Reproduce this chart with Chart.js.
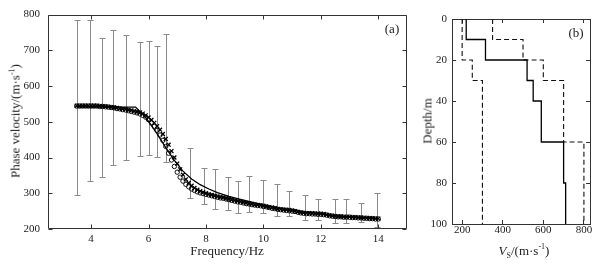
<!DOCTYPE html>
<html><head><meta charset="utf-8">
<script src="https://cdn.jsdelivr.net/npm/chart.js@4/dist/chart.umd.min.js"></script>
<style>
body{margin:0;background:#fff;width:607px;height:265px;overflow:hidden;position:relative;font-family:"Liberation Serif","Times New Roman",serif;}
canvas{position:absolute;top:0;}
#ca{left:0}
#cb{left:400px}
.t{position:absolute;font-size:13px;color:#222;white-space:nowrap;line-height:1}
.rot{transform:translate(-50%,-50%) rotate(-90deg);}
.ctr{transform:translate(-50%,-50%);}
sup,sub{font-size:8px;line-height:0}
</style></head><body>
<canvas id="ca" width="410" height="265"></canvas>
<canvas id="cb" width="207" height="265"></canvas>
<div class="t rot" style="left:15px;top:121px">Phase velocity/(m·s<sup>-1</sup>)</div>
<div class="t ctr" style="left:227px;top:250px">Frequency/Hz</div>
<div class="t ctr" style="left:392px;top:28px">(a)</div>
<div class="t rot" style="left:427px;top:121px">Depth/m</div>
<div class="t ctr" style="left:524px;top:250px"><i>V</i><sub>S</sub>/(m·s<sup>-1</sup>)</div>
<div class="t ctr" style="left:576px;top:32px">(b)</div>
<script>
// ---------- Panel (a) data ----------
const freq = [3.5,3.6,3.7,3.8,3.9,4.0,4.1,4.2,4.3,4.4,
4.5,4.6,4.7,4.8,4.9,5.0,5.1,5.2,5.3,5.4,
5.5,5.6,5.7,5.8,5.9,
6.0,6.1,6.2,6.3,6.4,6.5,6.6,6.7,6.8,6.9,
7.0,7.1,7.2,7.3,7.4,7.5,7.6,7.7,7.8,7.9,
8.0,8.1,8.2,8.3,8.4,8.5,8.6,8.7,8.8,8.9,
9.0,9.1,9.2,9.3,9.4,9.5,9.6,9.7,9.8,9.9,
10.0,10.1,10.2,10.3,10.4,10.5,10.6,10.7,10.8,10.9,
11.0,11.1,11.2,11.3,11.4,11.5,11.6,11.7,11.8,11.9,
12.0,12.1,12.2,12.3,12.4,12.5,12.6,12.7,12.8,12.9,
13.0,13.1,13.2,13.3,13.4,13.5,13.6,13.7,13.8,13.9,14.0];
const obsVel = [545,545,545,545,545,545,545,545,544,544,
543,542,541,540,539,537,536,535,533,532,
530,528,526,523,518,
512,505,497,488,478,466,452,436,418,400,
383,367,352,339,329,321,315,310,306,303,
300,297,295,293,291,289,288,286,284,282,
280,278,277,275,273,271,270,268,267,266,
265,263,261,260,258,256,255,254,254,253,
252,250,248,246,245,244,244,244,243,243,
243,242,240,238,237,236,235,235,234,234,
234,233,233,232,232,231,231,230,230,229,229];
const invVel = [544,544,544,544,544,544,544,544,543,543,
542,541,540,539,537,536,534,533,531,529,
527,525,522,518,513,
506,497,487,476,463,448,431,412,393,375,
359,345,334,325,318,312,308,304,301,299,
297,295,293,291,289,287,286,284,282,280,
278,276,275,273,271,270,268,267,266,265,
263,262,260,258,257,255,254,253,252,251,
250,249,247,245,244,243,243,242,242,241,
241,240,239,237,236,235,234,234,233,233,
233,232,232,231,231,230,230,229,229,228,228];
const trueFreq = [3.5,5.55,5.7,5.9,6.1,6.3,6.6,6.9,7.2,7.5,7.8,8.1,8.4,8.8,9.2,9.6,10.0,10.5,11.0,11.5,12.0,12.5,13.0,13.5,14.0];
const trueVel  = [541,541,529,512,490,466,428,392,362,340,324,312,302,291,283,275,267,259,253,247,243,237,234,232,229];
const errFreq = [3.52,3.96,4.39,4.78,5.22,5.70,6.00,6.30,6.60,7.44,7.94,8.33,8.77,9.13,9.49,10.0,10.47,10.89,11.44,11.9,12.48,12.89,13.41,13.97];
const errHigh = [786,786,735,758,742,722,725,711,747,426,370,367,345,334,348,336,326,305,294,285,285,285,272,300];
const errLow  = [296,333,345,379,392,404,406,401,387,286,270,257,254,246,248,245,235,235,226,226,217,217,220,205];
const freqTicks = [4,6,8,10,12,14];
const velTicks = [200,300,400,500,600,700,800];

// ---------- Panel (b) data ----------
const solidTop = [0,10,20,30,40,60,80];
const solidVs  = [220,315,520,550,590,700,710];
const lowTop = [0,20,30];
const lowVs  = [200,250,300];
const highTop = [0,10,20,30,60];
const highVs  = [350,500,600,700,800];
const maxDepth = 100;
const vsTicks = [200,400,600,800];
const depthTicks = [0,20,40,60,80,100];

const FONT = {family:'"Liberation Serif","Times New Roman",serif', size:11};
const AX = '#333';

// panel (a): box + inward ticks drawn through its scales
function drawFrame(ctx, chart){
  const a = chart.chartArea, xs = chart.scales.x, ys = chart.scales.y;
  ctx.save();
  ctx.strokeStyle = AX; ctx.lineWidth = 1; ctx.setLineDash([]);
  const L = Math.round(a.left)+0.5, R = Math.round(a.right)-0.5, T = Math.round(a.top)+0.5, B = Math.round(a.bottom)-0.5;
  ctx.beginPath();
  ctx.rect(L, T, R-L, B-T);
  const tl = 4;
  xs.ticks.forEach(t => {
    const p = Math.round(xs.getPixelForValue(t.value))+0.5;
    ctx.moveTo(p, B); ctx.lineTo(p, B-tl);
    ctx.moveTo(p, T); ctx.lineTo(p, T+tl);
  });
  ys.ticks.forEach(t => {
    const p = Math.round(ys.getPixelForValue(t.value))+0.5;
    ctx.moveTo(L, p); ctx.lineTo(L+tl, p);
    ctx.moveTo(R, p); ctx.lineTo(R-tl, p);
  });
  ctx.stroke();
  ctx.restore();
}

const errBars = {
  id:'errBars',
  beforeDatasetsDraw(chart){
    const {ctx, scales:{x, y}} = chart;
    ctx.save();
    ctx.strokeStyle = '#8a8a8a'; ctx.lineWidth = 1;
    ctx.beginPath();
    const cap = 3;
    errFreq.forEach((f, i) => {
      const px = Math.round(x.getPixelForValue(f))+0.5;
      const yh = Math.round(y.getPixelForValue(errHigh[i]))+0.5;
      const yl = Math.round(Math.min(y.getPixelForValue(errLow[i]), chart.chartArea.bottom-1))+0.5;
      ctx.moveTo(px, yh); ctx.lineTo(px, yl);
      ctx.moveTo(px-cap, yh); ctx.lineTo(px+cap, yh);
      ctx.moveTo(px-cap, yl); ctx.lineTo(px+cap, yl);
    });
    ctx.stroke();
    ctx.restore();
  }
};

function setTicks(arr){ return s => { s.ticks = arr.map(v => ({value:v})); }; }
const noGrid = {display:false, drawTicks:false};
// native Chart.js axis line + inward tick marks (negative tick length)
const inGrid = {display:true, drawOnChartArea:false, drawTicks:true, tickLength:-4, color:AX, lineWidth:1};
const axBorder = {display:true, color:AX, width:1};

function profile(tops, vs){
  const pts = tops.map((d,i)=>({x:vs[i], y:d}));
  pts.push({x:vs[vs.length-1], y:maxDepth});
  return pts;
}

// Panel (b): box made of four native axes (bottom, left, top, right)
new Chart(document.getElementById('cb'), {
  type:'scatter',
  data:{datasets:[
    {data: profile(solidTop, solidVs), showLine:true, stepped:'after', pointRadius:0, borderColor:'#000', borderWidth:1.3},
    {data: profile(lowTop, lowVs), showLine:true, stepped:'after', pointRadius:0, borderColor:'#111', borderWidth:1.1, borderDash:[5,3]},
    {data: profile(highTop, highVs), showLine:true, stepped:'after', pointRadius:0, borderColor:'#111', borderWidth:1.1, borderDash:[5,3]}
  ]},
  options:{
    responsive:false, animation:false, events:[],
    layout:{padding:{top:19,right:17,left:0,bottom:0}, autoPadding:false},
    plugins:{legend:{display:false}, tooltip:{enabled:false}},
    scales:{
      x:{type:'linear', position:'bottom', min:150, max:830, afterBuildTicks:setTicks(vsTicks),
         afterFit:s=>{s.height=41;},
         grid:inGrid, border:axBorder,
         ticks:{font:FONT, color:'#222', padding:4, maxRotation:0}},
      y:{type:'linear', position:'left', reverse:true, min:0, max:maxDepth, afterBuildTicks:setTicks(depthTicks),
         afterFit:s=>{s.width=52;},
         grid:inGrid, border:axBorder,
         ticks:{font:FONT, color:'#222', padding:9}},
      x2:{type:'linear', axis:'x', position:'top', min:150, max:830, afterBuildTicks:setTicks(vsTicks),
         afterFit:s=>{s.height=0;},
         grid:inGrid, border:axBorder, ticks:{display:false}},
      y2:{type:'linear', axis:'y', position:'right', reverse:true, min:0, max:maxDepth, afterBuildTicks:setTicks(depthTicks),
         afterFit:s=>{s.width=0;},
         grid:inGrid, border:axBorder, ticks:{display:false}}
    }
  }
});

// Panel (a)
new Chart(document.getElementById('ca'), {
  type:'scatter',
  data:{datasets:[
    {data: trueFreq.map((f,i)=>({x:f,y:trueVel[i]})), showLine:true, pointRadius:0, borderColor:'#000', borderWidth:1.3, order:0},
    {data: freq.map((f,i)=>({x:f,y:obsVel[i]})), pointStyle:'crossRot', pointRadius:2.8, borderColor:'#000', borderWidth:1.3, showLine:false, order:1},
    {data: freq.map((f,i)=>({x:f,y:invVel[i]})), pointStyle:'circle', pointRadius:2.2, borderColor:'#111', backgroundColor:'rgba(0,0,0,0)', borderWidth:1, showLine:false, order:2}
  ]},
  options:{
    responsive:false, animation:false, events:[],
    layout:{padding:{top:14,right:3,left:0,bottom:0}, autoPadding:false},
    plugins:{legend:{display:false}, tooltip:{enabled:false}},
    scales:{
      x:{type:'linear', min:2.5, max:15, afterBuildTicks:setTicks(freqTicks),
         afterFit:s=>{s.height=36;},
         grid:noGrid, border:{display:false},
         ticks:{font:FONT, color:'#222', padding:4, maxRotation:0}},
      y:{type:'linear', min:200, max:800, afterBuildTicks:setTicks(velTicks),
         afterFit:s=>{s.width=48;},
         grid:noGrid, border:{display:false},
         ticks:{font:FONT, color:'#222', padding:8}}
    }
  },
  plugins:[errBars, {id:'frameA', afterDraw(chart){ drawFrame(chart.ctx, chart); }}]
});
</script>
</body></html>
